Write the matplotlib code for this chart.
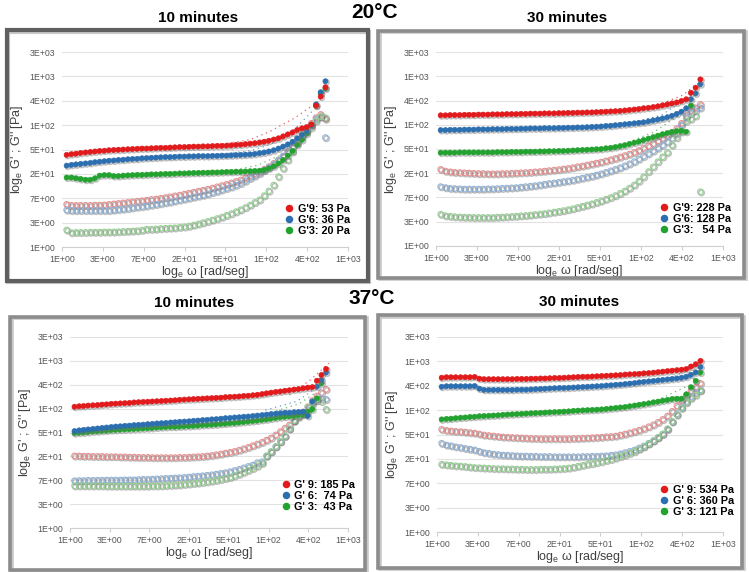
import numpy as np
import matplotlib
matplotlib.use('Agg')
import matplotlib.pyplot as plt
from matplotlib.lines import Line2D
from matplotlib.patches import Rectangle
import matplotlib.patheffects as pe
from matplotlib.ticker import MultipleLocator, FuncFormatter

plt.rcParams['font.family'] = ['Liberation Sans', 'DejaVu Sans']
plt.rcParams['mathtext.fontset'] = 'custom'
plt.rcParams['mathtext.rm'] = 'Liberation Sans'
plt.rcParams['mathtext.it'] = 'Liberation Sans:italic'

# angular frequency (rad/s)
omega = [1.12, 1.26, 1.41, 1.58, 1.78, 2.00, 2.24, 2.51, 2.82, 3.16,
         3.55, 3.98, 4.47, 5.01, 5.62, 6.31, 7.08, 7.94, 8.91, 10.0,
         11.2, 12.6, 14.1, 15.8, 17.8, 20.0, 22.4, 25.1, 28.2, 31.6,
         35.5, 39.8, 44.7, 50.1, 56.2, 63.1, 70.8, 79.4, 89.1, 100,
         112, 126, 141, 158, 178, 200, 224, 251, 282, 316,
         355, 398, 447, 501, 562, 631]
nan = np.nan

# all moduli given as log_e(G / Pa)
# ---- 20 C, 10 minutes
p1_gp9 = [3.78, 3.81, 3.83, 3.86, 3.88, 3.90, 3.92, 3.94, 3.95, 3.97,
          3.98, 3.99, 4.00, 4.01, 4.02, 4.03, 4.04, 4.04, 4.05, 4.06,
          4.07, 4.07, 4.08, 4.09, 4.10, 4.10, 4.11, 4.12, 4.12, 4.13,
          4.13, 4.14, 4.15, 4.15, 4.16, 4.17, 4.19, 4.20, 4.22, 4.24,
          4.26, 4.29, 4.32, 4.36, 4.41, 4.46, 4.54, 4.62, 4.70, 4.80,
          4.87, 4.92, 5.03, 5.80, 6.17, 6.55]
p1_gp6 = [3.34, 3.37, 3.39, 3.41, 3.43, 3.45, 3.48, 3.50, 3.52, 3.54,
          3.55, 3.57, 3.58, 3.60, 3.61, 3.62, 3.64, 3.65, 3.66, 3.67,
          3.68, 3.69, 3.69, 3.70, 3.71, 3.71, 3.72, 3.72, 3.73, 3.73,
          3.73, 3.74, 3.74, 3.75, 3.75, 3.76, 3.77, 3.78, 3.79, 3.80,
          3.82, 3.85, 3.88, 3.92, 3.97, 4.04, 4.12, 4.21, 4.32, 4.46,
          4.60, 4.76, 5.00, 5.85, 6.35, 6.80]
p1_gp3 = [2.85, 2.85, 2.82, 2.79, 2.76, 2.76, 2.82, 2.93, 2.95, 2.95,
          2.91, 2.91, 2.93, 2.94, 2.95, 2.96, 2.96, 2.97, 2.98, 2.98,
          2.99, 3.00, 3.00, 3.01, 3.02, 3.02, 3.03, 3.04, 3.04, 3.05,
          3.05, 3.06, 3.06, 3.07, 3.08, 3.08, 3.09, 3.09, 3.10, 3.11,
          3.12, 3.13, 3.16, 3.23, 3.31, 3.43, 3.57, 3.75, 3.94, 4.19,
          4.39, 4.65, 5.00, 5.80, 6.30, 6.50]
p1_gpp9 = [1.75, 1.71, 1.71, 1.71, 1.71, 1.71, 1.72, 1.72, 1.73, 1.75,
           1.77, 1.79, 1.81, 1.83, 1.86, 1.88, 1.90, 1.92, 1.95, 1.97,
           2.00, 2.03, 2.06, 2.10, 2.13, 2.17, 2.21, 2.25, 2.29, 2.33,
           2.37, 2.42, 2.47, 2.52, 2.57, 2.63, 2.69, 2.75, 2.83, 2.91,
           3.00, 3.09, 3.19, 3.30, 3.43, 3.57, 3.73, 3.91, 4.10, 4.30,
           4.53, 4.76, 5.08, 5.31, 5.44, 5.25]
p1_gpp6 = [1.52, 1.50, 1.50, 1.50, 1.50, 1.50, 1.50, 1.50, 1.50, 1.50,
           1.52, 1.54, 1.56, 1.58, 1.61, 1.64, 1.66, 1.69, 1.72, 1.75,
           1.78, 1.82, 1.85, 1.89, 1.93, 1.97, 2.01, 2.05, 2.09, 2.13,
           2.18, 2.24, 2.29, 2.35, 2.41, 2.47, 2.54, 2.61, 2.71, 2.82,
           2.92, 3.02, 3.14, 3.26, 3.40, 3.56, 3.73, 3.91, 4.11, 4.32,
           4.52, 4.73, 5.00, 5.25, 5.34, 4.49]
p1_gpp3 = [0.70, 0.59, 0.60, 0.60, 0.60, 0.61, 0.61, 0.61, 0.62, 0.62,
           0.62, 0.63, 0.64, 0.65, 0.66, 0.67, 0.69, 0.73, 0.73, 0.74,
           0.76, 0.77, 0.78, 0.79, 0.81, 0.83, 0.86, 0.90, 0.95, 1.00,
           1.05, 1.11, 1.17, 1.23, 1.30, 1.37, 1.45, 1.53, 1.62, 1.72,
           1.83, 1.94, 2.11, 2.30, 2.54, 2.89, 3.23, 3.57, 3.91, 4.25,
           4.62, 4.79, 4.90, 5.17, 5.35, 5.31]

# ---- 20 C, 30 minutes
p2_gp9 = [5.39, 5.39, 5.40, 5.40, 5.40, 5.41, 5.41, 5.41, 5.42, 5.42,
          5.42, 5.43, 5.43, 5.43, 5.44, 5.44, 5.44, 5.45, 5.45, 5.46,
          5.46, 5.46, 5.47, 5.47, 5.47, 5.48, 5.48, 5.49, 5.49, 5.50,
          5.50, 5.51, 5.51, 5.52, 5.53, 5.54, 5.55, 5.56, 5.57, 5.59,
          5.61, 5.63, 5.65, 5.68, 5.70, 5.73, 5.76, 5.80, 5.84, 5.88,
          5.92, 5.98, 6.05, 6.32, 6.53, 6.87]
p2_gp6 = [4.78, 4.78, 4.79, 4.79, 4.79, 4.80, 4.80, 4.80, 4.81, 4.81,
          4.81, 4.82, 4.82, 4.82, 4.83, 4.83, 4.83, 4.84, 4.84, 4.85,
          4.85, 4.85, 4.86, 4.86, 4.86, 4.87, 4.87, 4.88, 4.88, 4.89,
          4.89, 4.90, 4.91, 4.92, 4.93, 4.95, 4.96, 4.98, 5.00, 5.02,
          5.04, 5.06, 5.08, 5.10, 5.14, 5.18, 5.22, 5.26, 5.31, 5.37,
          5.45, 5.54, 5.68, 6.05, 6.29, 6.67]
p2_gp3 = [3.85, 3.85, 3.85, 3.85, 3.86, 3.86, 3.86, 3.86, 3.86, 3.86,
          3.86, 3.86, 3.87, 3.87, 3.87, 3.88, 3.88, 3.88, 3.89, 3.89,
          3.89, 3.90, 3.90, 3.91, 3.91, 3.92, 3.92, 3.93, 3.94, 3.95,
          3.96, 3.97, 3.98, 3.99, 4.00, 4.03, 4.05, 4.08, 4.12, 4.16,
          4.21, 4.26, 4.31, 4.37, 4.43, 4.49, 4.55, 4.61, 4.66, 4.70,
          4.74, 4.75, 4.71, 5.79, nan, nan]
p2_gpp9 = [3.16, 3.09, 3.06, 3.04, 3.03, 3.02, 3.01, 3.00, 2.99, 2.99,
           2.98, 2.98, 2.98, 2.99, 2.99, 3.00, 3.01, 3.02, 3.03, 3.04,
           3.06, 3.07, 3.09, 3.11, 3.13, 3.15, 3.18, 3.20, 3.23, 3.27,
           3.30, 3.34, 3.38, 3.42, 3.46, 3.51, 3.56, 3.61, 3.67, 3.73,
           3.79, 3.86, 3.94, 4.03, 4.12, 4.22, 4.33, 4.44, 4.56, 4.69,
           4.85, 5.06, 5.37, 5.57, 5.70, 5.84]
p2_gpp6 = [2.45, 2.41, 2.38, 2.37, 2.36, 2.35, 2.35, 2.35, 2.35, 2.35,
           2.36, 2.36, 2.37, 2.38, 2.39, 2.40, 2.41, 2.43, 2.45, 2.47,
           2.49, 2.52, 2.55, 2.58, 2.60, 2.63, 2.66, 2.69, 2.72, 2.76,
           2.80, 2.84, 2.88, 2.93, 2.98, 3.04, 3.10, 3.16, 3.23, 3.31,
           3.39, 3.48, 3.59, 3.70, 3.81, 3.92, 4.04, 4.16, 4.30, 4.44,
           4.63, 4.99, 5.29, 5.47, 5.58, 5.70]
p2_gpp3 = [1.31, 1.25, 1.23, 1.21, 1.20, 1.19, 1.19, 1.18, 1.18, 1.18,
           1.18, 1.18, 1.19, 1.20, 1.21, 1.22, 1.23, 1.25, 1.26, 1.28,
           1.30, 1.32, 1.34, 1.37, 1.40, 1.43, 1.46, 1.50, 1.54, 1.59,
           1.64, 1.69, 1.74, 1.80, 1.86, 1.93, 2.00, 2.08, 2.17, 2.27,
           2.39, 2.52, 2.68, 2.86, 3.07, 3.27, 3.48, 3.68, 3.86, 4.16,
           4.47, 4.71, 5.15, 5.24, 5.37, 2.24]

# ---- 37 C, 10 minutes
p3_gp9 = [5.08, 5.10, 5.11, 5.13, 5.14, 5.15, 5.17, 5.18, 5.20, 5.21,
          5.22, 5.23, 5.24, 5.26, 5.27, 5.28, 5.29, 5.30, 5.31, 5.32,
          5.33, 5.34, 5.35, 5.37, 5.38, 5.39, 5.40, 5.41, 5.42, 5.43,
          5.44, 5.45, 5.46, 5.48, 5.49, 5.50, 5.51, 5.53, 5.54, 5.56,
          5.58, 5.61, 5.64, 5.67, 5.70, 5.72, 5.75, 5.77, 5.80, 5.82,
          5.85, 5.88, 5.90, 6.17, 6.41, 6.66]
p3_gp6 = [4.06, 4.09, 4.11, 4.13, 4.15, 4.17, 4.19, 4.21, 4.23, 4.25,
          4.26, 4.28, 4.29, 4.31, 4.32, 4.33, 4.35, 4.36, 4.38, 4.39,
          4.40, 4.42, 4.43, 4.45, 4.46, 4.47, 4.49, 4.50, 4.52, 4.53,
          4.55, 4.56, 4.58, 4.60, 4.61, 4.63, 4.64, 4.66, 4.67, 4.69,
          4.71, 4.73, 4.75, 4.77, 4.79, 4.81, 4.83, 4.83, 4.85, 4.86,
          4.87, 4.69, 5.30, 5.92, 6.20, 6.51]
p3_gp3 = [3.97, 3.99, 4.00, 4.02, 4.04, 4.05, 4.07, 4.08, 4.10, 4.11,
          4.12, 4.13, 4.14, 4.15, 4.16, 4.17, 4.18, 4.19, 4.21, 4.22,
          4.23, 4.24, 4.24, 4.25, 4.26, 4.27, 4.28, 4.29, 4.31, 4.32,
          4.33, 4.34, 4.36, 4.37, 4.39, 4.40, 4.42, 4.44, 4.46, 4.48,
          4.50, 4.53, 4.55, 4.58, 4.61, 4.64, 4.66, 4.68, 4.70, 4.73,
          4.75, 4.87, 4.97, 5.43, 6.06, nan]
p3_gpp9 = [3.02, 3.02, 3.01, 3.01, 3.00, 3.00, 3.00, 2.99, 2.99, 2.99,
           2.98, 2.98, 2.97, 2.97, 2.96, 2.96, 2.96, 2.95, 2.95, 2.95,
           2.95, 2.95, 2.95, 2.96, 2.96, 2.97, 2.98, 2.99, 3.00, 3.02,
           3.04, 3.07, 3.10, 3.14, 3.17, 3.21, 3.26, 3.32, 3.38, 3.45,
           3.52, 3.59, 3.68, 3.77, 3.90, 4.04, 4.18, 4.32, 4.48, 4.64,
           4.86, 5.08, 5.34, 5.53, 5.67, 5.81]
p3_gpp6 = [1.98, 1.99, 1.99, 2.00, 2.00, 2.00, 2.00, 2.01, 2.01, 2.01,
           2.01, 2.02, 2.02, 2.02, 2.03, 2.04, 2.04, 2.05, 2.06, 2.07,
           2.08, 2.09, 2.10, 2.11, 2.12, 2.14, 2.16, 2.17, 2.19, 2.21,
           2.23, 2.26, 2.29, 2.32, 2.36, 2.41, 2.46, 2.52, 2.58, 2.64,
           2.74, 2.78, 3.02, 3.20, 3.41, 3.62, 3.85, 4.16, 4.50, 4.72,
           4.78, 4.94, 5.20, 5.34, 5.43, 5.39]
p3_gpp3 = [1.77, 1.77, 1.77, 1.77, 1.77, 1.77, 1.77, 1.76, 1.76, 1.76,
           1.76, 1.76, 1.76, 1.76, 1.76, 1.76, 1.76, 1.77, 1.77, 1.77,
           1.78, 1.79, 1.80, 1.81, 1.83, 1.85, 1.87, 1.89, 1.91, 1.94,
           1.97, 2.00, 2.04, 2.08, 2.12, 2.19, 2.26, 2.34, 2.42, 2.50,
           2.60, 2.71, 3.02, 3.20, 3.41, 3.62, 3.85, 4.16, 4.50, 4.69,
           4.80, 5.06, 5.25, 5.36, 5.30, 4.97]

# ---- 37 C, 30 minutes
p4_gp9 = [6.33, 6.35, 6.35, 6.35, 6.35, 6.35, 6.35, 6.36, 6.29, 6.27,
          6.27, 6.27, 6.27, 6.27, 6.27, 6.27, 6.28, 6.28, 6.28, 6.29,
          6.29, 6.30, 6.30, 6.31, 6.32, 6.32, 6.33, 6.34, 6.35, 6.36,
          6.37, 6.37, 6.38, 6.39, 6.40, 6.41, 6.42, 6.43, 6.44, 6.46,
          6.47, 6.48, 6.49, 6.51, 6.52, 6.54, 6.56, 6.58, 6.60, 6.62,
          6.64, 6.66, 6.69, 6.79, 6.88, 7.02]
p4_gp6 = [5.96, 5.98, 5.98, 5.98, 5.98, 5.98, 5.98, 5.99, 5.88, 5.83,
          5.83, 5.83, 5.83, 5.83, 5.83, 5.83, 5.84, 5.84, 5.84, 5.85,
          5.86, 5.87, 5.88, 5.89, 5.90, 5.91, 5.91, 5.92, 5.93, 5.94,
          5.95, 5.96, 5.97, 5.98, 5.99, 6.01, 6.02, 6.04, 6.05, 6.07,
          6.09, 6.11, 6.14, 6.16, 6.18, 6.20, 6.22, 6.24, 6.26, 6.28,
          6.30, 6.33, 6.37, 6.45, 6.55, 6.77]
p4_gp3 = [4.62, 4.64, 4.65, 4.67, 4.69, 4.70, 4.72, 4.73, 4.75, 4.76,
          4.77, 4.78, 4.79, 4.81, 4.82, 4.83, 4.84, 4.85, 4.86, 4.87,
          4.88, 4.89, 4.90, 4.91, 4.92, 4.93, 4.94, 4.95, 4.97, 4.98,
          4.99, 5.00, 5.01, 5.02, 5.03, 5.05, 5.07, 5.09, 5.11, 5.13,
          5.16, 5.19, 5.22, 5.25, 5.28, 5.32, 5.35, 5.39, 5.42, 5.46,
          5.47, 5.47, 5.65, 5.94, 6.20, 6.54]
p4_gpp9 = [4.21, 4.17, 4.15, 4.13, 4.12, 4.10, 4.08, 4.06, 4.02, 3.98,
           3.96, 3.94, 3.92, 3.90, 3.89, 3.88, 3.87, 3.86, 3.85, 3.84,
           3.84, 3.83, 3.83, 3.83, 3.83, 3.83, 3.83, 3.83, 3.84, 3.84,
           3.85, 3.86, 3.87, 3.88, 3.89, 3.91, 3.92, 3.94, 3.98, 4.02,
           4.07, 4.12, 4.18, 4.24, 4.32, 4.40, 4.50, 4.62, 4.76, 4.95,
           5.17, 5.39, 5.61, 5.80, 5.94, 6.10]
p4_gpp6 = [3.64, 3.57, 3.54, 3.50, 3.47, 3.43, 3.40, 3.37, 3.31, 3.26,
           3.23, 3.20, 3.18, 3.16, 3.15, 3.14, 3.13, 3.12, 3.12, 3.11,
           3.11, 3.10, 3.10, 3.10, 3.09, 3.09, 3.09, 3.09, 3.09, 3.09,
           3.10, 3.10, 3.11, 3.11, 3.12, 3.13, 3.15, 3.17, 3.21, 3.26,
           3.31, 3.37, 3.45, 3.53, 3.64, 3.75, 3.88, 4.02, 4.21, 4.53,
           4.84, 5.12, 5.35, 5.55, 5.72, 5.83]
p4_gpp3 = [2.78, 2.76, 2.74, 2.72, 2.71, 2.69, 2.67, 2.65, 2.64, 2.63,
           2.62, 2.61, 2.60, 2.60, 2.59, 2.59, 2.58, 2.58, 2.57, 2.57,
           2.57, 2.58, 2.58, 2.58, 2.59, 2.60, 2.61, 2.63, 2.66, 2.70,
           2.74, 2.78, 2.81, 2.85, 2.89, 2.94, 2.98, 3.04, 3.10, 3.16,
           3.23, 3.30, 3.40, 3.50, 3.62, 3.75, 3.88, 4.02, 4.24, 4.53,
           4.80, 5.08, 5.31, 5.49, 5.62, 5.80]

# dotted trend lines (omega, log_e G') for G'9, G'6, G'3
p1_trend_w = [[40, 100, 164, 299, 545], [36, 100, 164, 300, 450], [55, 120, 250, 350]]
p1_trend_g = [[4.16, 4.40, 4.75, 5.30, 6.00], [3.75, 3.95, 4.20, 4.85, 5.55], [3.10, 3.35, 3.90, 4.40]]
p2_trend_w = [[224, 400, 620], [85, 245, 510], [78, 206, 430]]
p2_trend_g = [[5.81, 6.20, 6.75], [4.92, 5.40, 6.23], [4.05, 4.71, 5.54]]
p3_trend_w = [[250, 425, 680], [137, 300, 520], [160, 320, 500]]
p3_trend_g = [[5.57, 6.20, 6.90], [4.94, 5.30, 5.92], [4.85, 5.20, 5.70]]
p4_trend_w = [[400, 650], [300, 600], [156, 530]]
p4_trend_g = [[6.60, 7.10], [6.30, 6.85], [5.14, 6.10]]

p1_labels = ["G'9: 53 Pa", "G'6: 36 Pa", "G'3: 20 Pa"]
p2_labels = ["G'9: 228 Pa", "G'6: 128 Pa", "G'3:   54 Pa"]
p3_labels = ["G' 9: 185 Pa", "G' 6:  74 Pa", "G' 3:  43 Pa"]
p4_labels = ["G' 9: 534 Pa", "G' 6: 360 Pa", "G' 3: 121 Pa"]

fill_cols = ['#e21a1c', '#2c6fb0', '#22a22e']
open_cols = ['#e98e8e', '#8fb2d8', '#92d08f']

W, H = 749, 572
fig = plt.figure(figsize=(W / 100, H / 100), dpi=100)
x = np.log(omega)


def fx(px):
    return px / W


def fy(py):
    return 1 - py / H


# panel frames (pixel boxes) and axes boxes
frames = [(6.5, 30, 367.5, 280.5, '#5f5f5f', 3.0),
          (378, 31, 744, 277.5, '#8c8c8c', 2.6),
          (10, 316.5, 365, 570, '#8c8c8c', 2.6),
          (378.5, 315, 742.5, 567.5, '#8c8c8c', 2.6)]
boxes = [(62, 52, 348, 247), (436, 52, 723, 246), (70, 337, 348, 528), (437, 337, 723, 532)]
leg_pos = [(0.765, 0.03), (0.765, 0.03), (0.745, 0.055), (0.765, 0.05)]

panels = [
    ([p1_gp9, p1_gp6, p1_gp3], [p1_gpp9, p1_gpp6, p1_gpp3], p1_trend_w, p1_trend_g, p1_labels),
    ([p2_gp9, p2_gp6, p2_gp3], [p2_gpp9, p2_gpp6, p2_gpp3], p2_trend_w, p2_trend_g, p2_labels),
    ([p3_gp9, p3_gp6, p3_gp3], [p3_gpp9, p3_gpp6, p3_gpp3], p3_trend_w, p3_trend_g, p3_labels),
    ([p4_gp9, p4_gp6, p4_gp3], [p4_gpp9, p4_gpp6, p4_gpp3], p4_trend_w, p4_trend_g, p4_labels),
]

shadow = [pe.SimpleLineShadow(offset=(0.8, -0.8), shadow_color='0.45', alpha=0.45, linewidth=1.2), pe.Normal()]

for (x0, y0, x1, y1, ec, lw) in frames:
    fig.patches.append(Rectangle((fx(x0 + 1.5), fy(y1 + 1.5)), fx(x1 - x0), (y1 - y0) / H,
                                 transform=fig.transFigure, fill=False, ec='#c8c8c8', lw=lw))
    fig.patches.append(Rectangle((fx(x0), fy(y1)), fx(x1 - x0), (y1 - y0) / H,
                                 transform=fig.transFigure, fill=False, ec=ec, lw=lw))

for i, (gp, gpp, tw, tg, labels) in enumerate(panels):
    l, t, r, b = boxes[i]
    ax = fig.add_axes([fx(l), fy(b), fx(r - l), (b - t) / H])

    for j in range(3):
        ax.plot(x, gpp[j], ls='none', marker='o', ms=4.0, mfc='none', mec=open_cols[j],
                mew=0.75, path_effects=shadow, zorder=3)
    for j in range(3):
        ax.plot(np.log(tw[j]), tg[j], ls=(0, (1, 3)), lw=0.9, color=fill_cols[j], alpha=0.7, zorder=2)
    for j in [2, 1, 0]:
        ax.plot(x, gp[j], ls='none', marker='o', ms=3.7, mfc=fill_cols[j], mec=fill_cols[j],
                mew=0.4, path_effects=shadow, zorder=4)

    ax.set_xlim(0, 7)
    ax.set_ylim(0, 8)
    ax.xaxis.set_major_locator(MultipleLocator(1))
    ax.yaxis.set_major_locator(MultipleLocator(1))
    fmt = FuncFormatter(lambda v, pos: '%.0E' % np.exp(v))
    ax.xaxis.set_major_formatter(fmt)
    ax.yaxis.set_major_formatter(fmt)
    ax.grid(axis='y', color='#e2e2e2', lw=0.8)
    ax.set_axisbelow(True)
    for s in ['top', 'right', 'left']:
        ax.spines[s].set_visible(False)
    ax.spines['bottom'].set_color('#d0d0d0')
    ax.spines['bottom'].set_zorder(1)
    ax.tick_params(axis='x', length=3, color='#d0d0d0', pad=3, labelsize=6.3, labelcolor='#555555')
    ax.tick_params(axis='y', length=0, pad=5, labelsize=6.3, labelcolor='#555555')
    for lab in ax.get_xticklabels() + ax.get_yticklabels():
        lab.set_family(['Liberation Sans Narrow', 'Liberation Sans'])

    ax.set_xlabel(r"log$_{\rm e}$ ω [rad/seg]", fontsize=9, color='#404040', labelpad=0)
    ax.set_ylabel(r"log$_{\rm e}$ G' ; G'' [Pa]", fontsize=9, color='#404040', labelpad=3)

    handles = [Line2D([], [], ls='none', marker='o', ms=4.4, color=c) for c in fill_cols]
    leg = ax.legend(handles, labels, loc='lower left', bbox_to_anchor=leg_pos[i], frameon=False,
                    handlelength=0.6, handletextpad=0.5, labelspacing=0.1, borderpad=0,
                    prop={'weight': 'bold', 'size': 7.8})

# titles
fig.text(fx(375), fy(12), '20°C', ha='center', va='center', fontsize=15, fontweight='bold')
fig.text(fx(198), fy(18), '10 minutes', ha='center', va='center', fontsize=11, fontweight='bold')
fig.text(fx(567), fy(18), '30 minutes', ha='center', va='center', fontsize=11, fontweight='bold')
fig.text(fx(372), fy(298), '37°C', ha='center', va='center', fontsize=15, fontweight='bold')
fig.text(fx(194), fy(303), '10 minutes', ha='center', va='center', fontsize=11, fontweight='bold')
fig.text(fx(579), fy(302), '30 minutes', ha='center', va='center', fontsize=11, fontweight='bold')

fig.savefig('out.png', dpi=100)
